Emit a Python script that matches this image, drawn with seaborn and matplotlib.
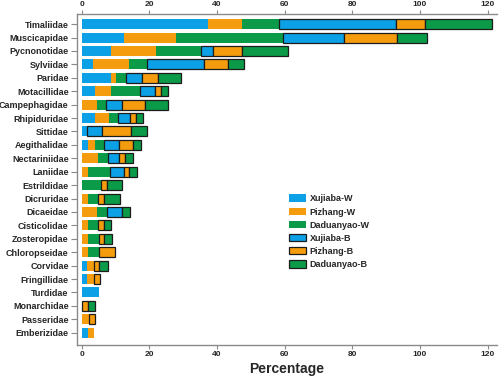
import numpy as np
import pandas as pd
import matplotlib
matplotlib.use("Agg")
import matplotlib.pyplot as plt
from matplotlib.patches import Patch
import seaborn as sns

families = ["Timaliidae", "Muscicapidae", "Pycnonotidae", "Sylviidae", "Paridae",
            "Motacillidae", "Campephagidae", "Rhipiduridae", "Sittidae", "Aegithalidae",
            "Nectariniidae", "Laniidae", "Estrildidae", "Dicruridae", "Dicaeidae",
            "Cisticolidae", "Zosteropidae", "Chloropseidae", "Corvidae", "Fringillidae",
            "Turdidae", "Monarchidae", "Passeridae", "Emberizidae"]

xujiaba_w   = [37.2, 12.5, 8.6, 3.3, 8.6, 4.0, 0, 4.0, 1.6, 1.8, 0, 0, 0, 0, 0, 0, 0, 0, 1.6, 1.6, 5.0, 0, 0, 1.9]
pizhang_w   = [10.3, 15.3, 13.5, 10.6, 1.5, 4.7, 4.5, 4.1, 0, 2.0, 4.7, 2.0, 0, 1.9, 4.6, 1.8, 1.8, 1.9, 1.9, 1.9, 0, 0, 2.1, 1.8]
daduanyao_w = [10.8, 31.8, 13.2, 5.5, 2.9, 8.6, 2.8, 2.7, 0, 2.8, 3.2, 6.3, 5.8, 3.0, 2.8, 3.1, 3.2, 3.2, 0, 0, 0, 0, 0, 0]
xujiaba_b   = [34.5, 18.0, 3.5, 16.9, 4.8, 4.4, 4.5, 3.6, 4.5, 4.3, 3.2, 4.2, 0, 0, 4.4, 0, 0, 0, 0, 0, 0, 0, 0, 0]
pizhang_b   = [8.7, 15.5, 8.5, 7.1, 4.8, 1.7, 6.9, 1.6, 8.5, 4.3, 1.7, 1.6, 1.7, 1.7, 0, 1.6, 1.6, 4.7, 1.7, 1.8, 0, 1.8, 1.8, 0]
daduanyao_b = [19.9, 9.0, 13.8, 4.6, 6.8, 2.2, 6.8, 2.2, 4.6, 2.4, 2.3, 2.3, 4.5, 4.6, 2.4, 2.3, 2.4, 0, 2.5, 0, 0, 2.1, 0, 0]

series_names = ["Xujiaba-W", "Pizhang-W", "Daduanyao-W", "Xujiaba-B", "Pizhang-B", "Daduanyao-B"]
series_vals = [xujiaba_w, pizhang_w, daduanyao_w, xujiaba_b, pizhang_b, daduanyao_b]

BLUE, ORANGE, GREEN = "#0CA0E6", "#F59B0E", "#0A9A48"
colors = [BLUE, ORANGE, GREEN, BLUE, ORANGE, GREEN]
outlined = [False, False, False, True, True, True]
EDGE = "#1c1c1c"

sns.set_style("white")
plt.rcParams["font.family"] = ["Liberation Sans", "DejaVu Sans"]
plt.rcParams["font.weight"] = "bold"

fig = plt.figure(figsize=(5.0, 3.8), dpi=100)
ax = fig.add_axes([0.154, 0.092, 0.84, 0.871])

left = np.zeros(len(families))
for name, vals, col, edge in zip(series_names, series_vals, colors, outlined):
    df = pd.DataFrame({"family": families, "value": vals})
    sns.barplot(data=df, x="value", y="family", order=families, orient="y",
                color=col, saturation=1, width=0.75, errorbar=None,
                left=left.copy(),
                edgecolor=EDGE if edge else "none",
                linewidth=0.9 if edge else 0, ax=ax)
    left = left + np.array(vals)

for p in ax.patches:
    if p.get_width() == 0:
        p.set_visible(False)

ax.set_xlim(-1.4, 122.8)
ax.set_ylim(23.92, -0.75)
ax.set_xticks([0, 20, 40, 60, 80, 100, 120])
ax.set_xlabel("Percentage", fontsize=10, fontweight="bold", labelpad=3)
ax.set_ylabel("")

spine_col = "#8a8a8a"
for s in ["left", "top", "bottom"]:
    ax.spines[s].set_visible(True)
    ax.spines[s].set_color(spine_col)
    ax.spines[s].set_linewidth(1.0)
ax.spines["right"].set_visible(False)

ax.tick_params(axis="x", which="both", top=True, labeltop=True, bottom=True, labelbottom=True,
               direction="out", length=3, width=0.8, color=spine_col, labelsize=6, pad=1.5)
ax.tick_params(axis="y", left=True, direction="out", length=4, width=0.8, color=spine_col,
               labelsize=6.5, pad=2)
for lbl in ax.get_xticklabels() + ax.get_yticklabels():
    lbl.set_fontweight("bold")

handles = []
for name, col, edge in zip(series_names, colors, outlined):
    handles.append(Patch(facecolor=col, edgecolor=EDGE if edge else "none",
                         linewidth=0.9 if edge else 0, label=name))
leg = ax.legend(handles=handles, loc="upper left", bbox_to_anchor=(0.505, 0.455),
                frameon=False, fontsize=6.5, handlelength=1.9, handleheight=0.95,
                handletextpad=0.4, labelspacing=0.45, borderpad=0, borderaxespad=0)
for t in leg.get_texts():
    t.set_fontweight("bold")

fig.savefig("out.png", dpi=100)
